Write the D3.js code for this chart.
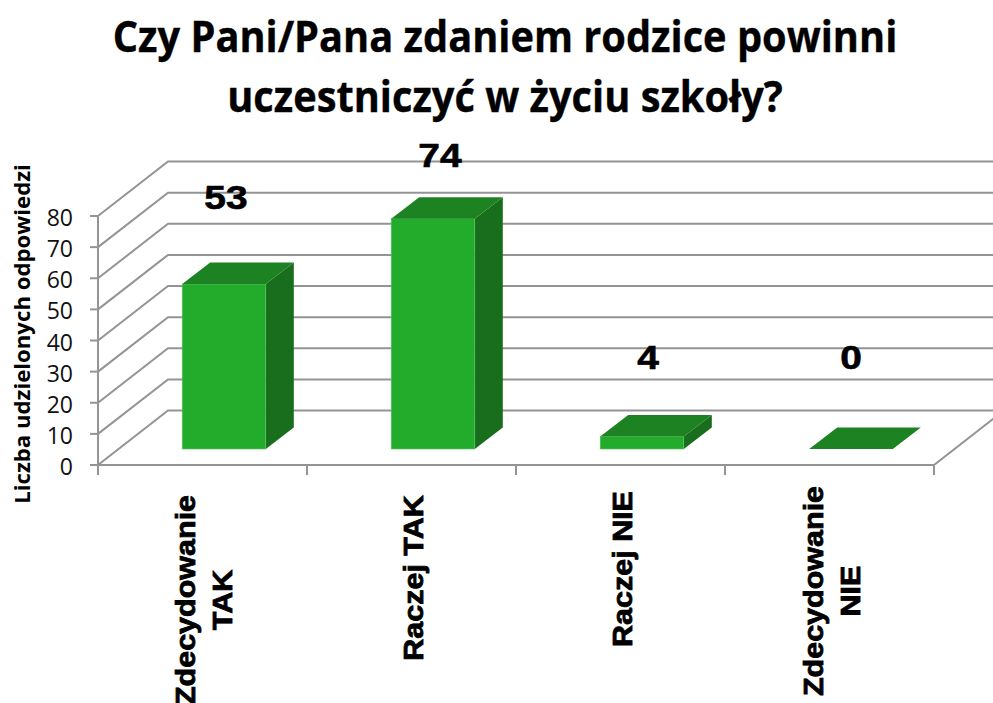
<!DOCTYPE html>
<html><head><meta charset="utf-8">
<script src="https://cdn.jsdelivr.net/npm/d3@7"></script>
<style>html,body{margin:0;padding:0;background:#fff;overflow:hidden}svg{display:block}</style>
</head><body><svg id="c" width="993" height="703"></svg>
<script>
const titleLines = ["Czy Pani/Pana zdaniem rodzice powinni", "uczestniczyć w życiu szkoły?"];
const yAxisTitle = "Liczba udzielonych odpowiedzi";
const categories = ["Zdecydowanie TAK", "Raczej TAK", "Raczej NIE", "Zdecydowanie NIE"];
const categoryLines = [["Zdecydowanie", "TAK"], ["Raczej TAK"], ["Raczej NIE"], ["Zdecydowanie", "NIE"]];
const values = [53, 74, 4, 0];
const yTicks = [0, 10, 20, 30, 40, 50, 60, 70, 80];

const svg = d3.select("#c");
const x = d3.scaleBand().domain(categories).range([98, 934]);
const y = d3.scaleLinear().domain([0, 80]).range([465, 216]);
const wallDx = 70, wallDy = -54.5;
const gridCol = "#949494", faceCol = "#23ab2b", topCol = "#1c8222", sideCol = "#186e1d";

// gridlines: front-left edge → back wall → right edge
yTicks.forEach(t => {
  const y0 = y(t);
  svg.append("path").attr("fill", "none").attr("stroke", gridCol).attr("stroke-width", 2)
    .attr("d", `M${x.range()[0]},${y0}L${x.range()[0] + wallDx},${y0 + wallDy}L993,${y0 + wallDy}`);
});
// floor front and right-side edge
svg.append("path").attr("fill", "none").attr("stroke", gridCol).attr("stroke-width", 2)
  .attr("d", `M${x.range()[0]},${y(0)}L${x.range()[1]},${y(0)}L${x.range()[1] + wallDx},${y(0) + wallDy}`);
// left axis
svg.append("line").attr("x1", 98).attr("x2", 98).attr("y1", y(80)).attr("y2", y(0))
  .attr("stroke", gridCol).attr("stroke-width", 2);
yTicks.forEach(t => {
  svg.append("line").attr("x1", 90).attr("x2", 98).attr("y1", y(t)).attr("y2", y(t))
    .attr("stroke", gridCol).attr("stroke-width", 2);
  svg.append("text").attr("x", 73).attr("y", y(t) + 1).attr("text-anchor", "end")
    .attr("dominant-baseline", "central").attr("font-family", "Open Sans").attr("font-size", 23)
    .attr("fill", "#111").text(t);
});
// bottom ticks
categories.concat(["end"]).forEach((c, i) => {
  const px = i < 4 ? x(c) : x.range()[1];
  svg.append("line").attr("x1", px).attr("x2", px).attr("y1", y(0)).attr("y2", y(0) + 10)
    .attr("stroke", gridCol).attr("stroke-width", 2);
});

// bars
const barW = x.bandwidth() * 0.4, depthDx = 28, depthDy = -21.5, floorDy = -16;
const barPos = c => x(c) + x.bandwidth() / 2 + 21.5 - barW / 2;
const h = v => y(0) - y(v);
categories.forEach((c, i) => {
  const v = values[i], l = barPos(c), r = l + barW, b = y(0) + floorDy, t = b - h(v);
  const g = svg.append("g");
  if (v > 0) {
    g.append("path").attr("fill", sideCol)
      .attr("d", `M${r},${b}L${r + depthDx},${b + depthDy}L${r + depthDx},${t + depthDy}L${r},${t}Z`);
    g.append("rect").attr("x", l).attr("y", t).attr("width", barW).attr("height", h(v))
      .attr("fill", faceCol).attr("stroke", "#5cc462").attr("stroke-width", 0.6);
  }
  g.append("path").attr("fill", topCol)
    .attr("d", `M${l},${t}L${l + depthDx},${t + depthDy}L${r + depthDx},${t + depthDy}L${r},${t}Z`);
});

// data labels
const labelY = [198, 156, 358, 358], labelX = [226, 440, 648, 851];
values.forEach((v, i) => {
  svg.append("text")
    .attr("transform", `translate(${labelX[i]},${labelY[i]}) scale(1.18,1)`)
    .attr("text-anchor", "middle").attr("dominant-baseline", "central")
    .attr("font-family", "Liberation Sans").attr("font-weight", "bold").attr("font-size", 33)
    .attr("fill", "#000").attr("stroke", "#000").attr("stroke-width", 0.6).text(v);
});

// category labels
const catCx = [[195, 232], [423], [632], [823, 860]];
const catCy = [600, 578, 569, 591];
categories.forEach((c, i) => {
  categoryLines[i].forEach((ln, j) => {
    svg.append("text")
      .attr("transform", `translate(${catCx[i][j]},${catCy[i]}) rotate(-90) scale(1.09,1)`)
      .attr("text-anchor", "middle").attr("font-family", "Liberation Sans").attr("font-weight", "bold")
      .attr("font-size", 28).attr("fill", "#000").attr("stroke", "#000").attr("stroke-width", 0.8).text(ln);
  });
});

// axis title
svg.append("text").attr("transform", "translate(30,334) rotate(-90)").attr("text-anchor", "middle")
  .attr("font-family", "Open Sans").attr("font-weight", "bold").attr("font-size", 22.2).attr("fill", "#000")
  .text(yAxisTitle);

// title
titleLines.forEach((t, i) => {
  svg.append("text").attr("transform", `translate(505,${52 + i * 60}) scale(0.925,1)`).attr("text-anchor", "middle")
    .attr("font-family", "Open Sans").attr("font-weight", "bold").attr("font-size", 43).attr("fill", "#000")
    .attr("stroke", "#000").attr("stroke-width", 0.4).text(t);
});
</script></body></html>
